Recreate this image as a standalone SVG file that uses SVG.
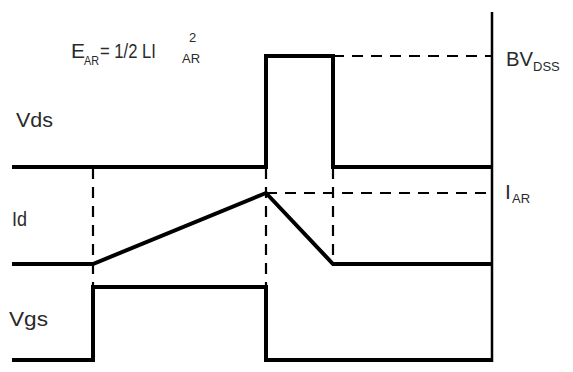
<svg xmlns="http://www.w3.org/2000/svg" width="573" height="372" viewBox="0 0 573 372">
<style>
.s{fill:none;stroke:#000;stroke-width:4;stroke-linejoin:miter}
.d{fill:none;stroke:#000;stroke-width:2.2;stroke-dasharray:11,8}
.ax{fill:none;stroke:#000;stroke-width:2.5}
text{font-family:"Liberation Sans",Arial,sans-serif;fill:#2a2a2a}
.l{font-size:21px}
.sub{font-size:13px}
</style>
<rect width="573" height="372" fill="#fff"/>
<g id="connectors">
<line class="d" x1="93" y1="168" x2="93" y2="287"/>
<line class="d" x1="266" y1="168" x2="266" y2="361"/>
<line class="d" x1="333" y1="168" x2="333" y2="264"/>
<line class="d" x1="266" y1="193" x2="492" y2="193"/>
<line class="d" x1="333" y1="56" x2="492" y2="56"/>
</g>
<g id="axis"><line class="ax" x1="492" y1="12" x2="492" y2="362"/></g>
<g id="vds">
<polyline class="s" points="12,167 266,167 266,56 333,56 333,167 492,167"/>
<text class="l" x="16" y="127" textLength="37" lengthAdjust="spacingAndGlyphs">Vds</text>
</g>
<g id="id">
<polyline class="s" points="12,264 93,264 266,193 333,264 492,264"/>
<text class="l" x="12" y="226" textLength="15" lengthAdjust="spacingAndGlyphs">Id</text>
</g>
<g id="vgs">
<polyline class="s" points="12,360 93,360 93,287 266,287 266,360 492,360"/>
<text class="l" x="9" y="326" textLength="39" lengthAdjust="spacingAndGlyphs">Vgs</text>
</g>
<g id="equation">
<text class="l" x="71" y="58">E</text>
<text class="sub" x="84" y="65" textLength="15" lengthAdjust="spacingAndGlyphs">AR</text>
<text class="l" x="100" y="58" textLength="56" lengthAdjust="spacingAndGlyphs">= 1/2 LI</text>
<text class="sub" x="189" y="42">2</text>
<text class="sub" x="182" y="63">AR</text>
</g>
<g id="bvdss">
<text class="l" x="506" y="66" textLength="27" lengthAdjust="spacingAndGlyphs">BV</text>
<text class="sub" x="533" y="71">DSS</text>
</g>
<g id="iar">
<text class="l" x="505" y="199">I</text>
<text class="sub" x="512" y="203">AR</text>
</g>
</svg>
